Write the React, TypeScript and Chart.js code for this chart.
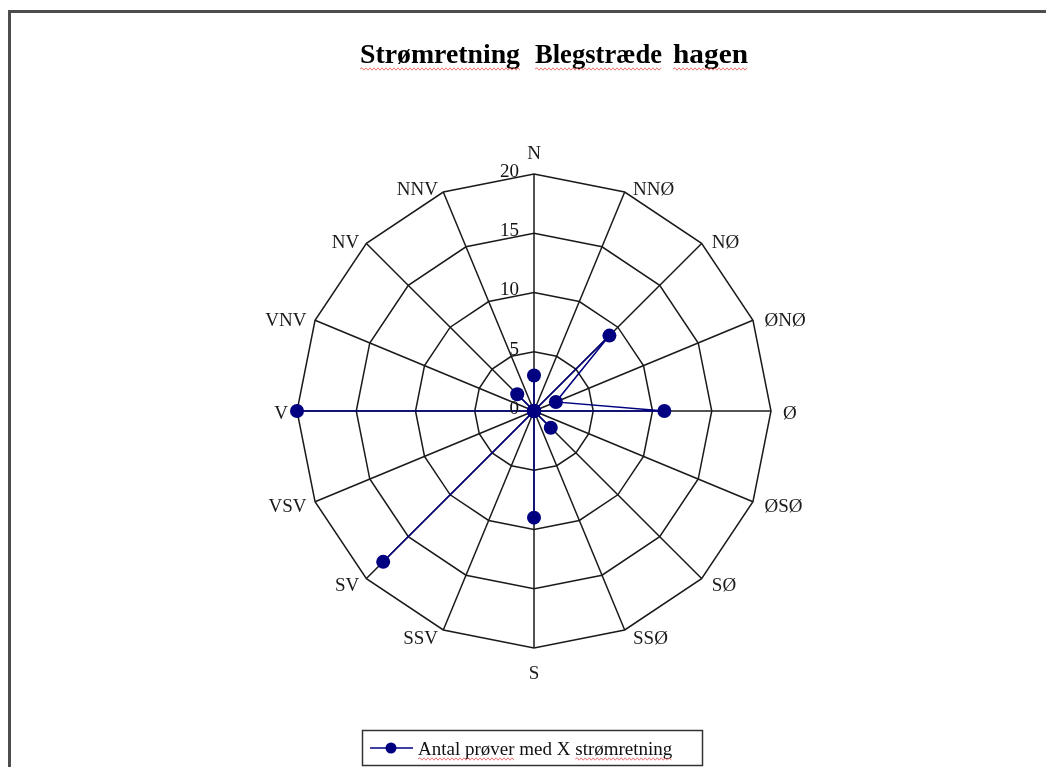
import React, { useEffect, useRef } from "react";
import { Chart, registerables } from "chart.js";

Chart.register(...registerables);

const directions = ["N", "NNØ", "NØ", "ØNØ", "Ø", "ØSØ", "SØ", "SSØ", "S", "SSV", "SV", "VSV", "V", "VNV", "NV", "NNV"];
const counts = [3, 0, 9, 2, 11, 0, 2, 0, 9, 0, 18, 0, 20, 0, 2, 0];
const tickValues = [0, 5, 10, 15, 20];
const titleWords = ["Strømretning", "Blegstræde", "hagen"];
const seriesLabel = "Antal prøver med X strømretning";

const SERIF = '"Liberation Serif", "Times New Roman", serif';

function squiggle(ctx: CanvasRenderingContext2D, x0: number, x1: number, y: number) {
  ctx.save();
  ctx.strokeStyle = "rgba(225,70,70,0.75)";
  ctx.lineWidth = 1;
  ctx.beginPath();
  let up = true;
  ctx.moveTo(x0, y);
  for (let x = x0 + 2; x <= x1; x += 2) {
    ctx.lineTo(x, up ? y - 1.2 : y + 1.2);
    up = !up;
  }
  ctx.stroke();
  ctx.restore();
}

export default function App() {
  const ref = useRef<HTMLCanvasElement>(null);

  useEffect(() => {
    const canvas = ref.current!;
    const decor = {
      id: "decor",
      beforeDraw(chart: any) {
        const ctx = chart.ctx as CanvasRenderingContext2D;
        ctx.save();
        ctx.fillStyle = "#ffffff";
        ctx.fillRect(0, 0, chart.width, chart.height);
        ctx.strokeStyle = "#4d4d4d";
        ctx.lineWidth = 3;
        ctx.beginPath();
        ctx.moveTo(9.5, chart.height);
        ctx.lineTo(9.5, 11.5);
        ctx.lineTo(chart.width, 11.5);
        ctx.stroke();
        ctx.restore();
      },
      afterDraw(chart: any) {
        const ctx = chart.ctx as CanvasRenderingContext2D;
        const r = chart.scales.r;
        const R = r.drawingArea;
        ctx.save();

        // title (each word fitted to its width in the reference)
        ctx.fillStyle = "#000000";
        ctx.font = `bold 27px ${SERIF}`;
        ctx.textAlign = "left";
        ctx.textBaseline = "alphabetic";
        const starts = [360, 535, 673];
        const widths = [160, 127, 75];
        titleWords.forEach((w, i) => {
          const mw = ctx.measureText(w).width;
          const sx = widths[i] / mw;
          ctx.save();
          ctx.translate(starts[i], 63);
          ctx.scale(sx, 1);
          ctx.fillText(w, 0, 0);
          ctx.restore();
          squiggle(ctx, starts[i], starts[i] + widths[i], 69);
        });

        // direction labels
        ctx.font = `19px ${SERIF}`;
        ctx.fillStyle = "#1a1a1a";
        ctx.textBaseline = "middle";
        directions.forEach((lab, i) => {
          const a = (i * 2 * Math.PI) / directions.length;
          const dx = Math.sin(a);
          const dy = -Math.cos(a);
          const vx = r.xCenter + R * dx;
          const vy = r.yCenter + R * dy;
          if (Math.abs(dx) < 0.01) {
            ctx.textAlign = "center";
            ctx.fillText(lab, vx, vy + dy * 23 + 3);
          } else {
            const gap = 3 + 6 * Math.abs(dx) + (dx > 0 ? 3 : 0);
            ctx.textAlign = dx > 0 ? "left" : "right";
            ctx.fillText(lab, vx + Math.sign(dx) * gap, vy + dy * 6 + 3.5);
          }
        });

        // tick labels
        ctx.font = `19px ${SERIF}`;
        ctx.textAlign = "right";
        ctx.textBaseline = "middle";
        ctx.fillStyle = "#111111";
        tickValues.forEach((v) => {
          const d = r.getDistanceFromCenterForValue(v);
          ctx.fillText(String(v), r.xCenter - 15, r.yCenter - d - 2);
        });

        // legend
        ctx.strokeStyle = "#333333";
        ctx.lineWidth = 1.5;
        ctx.strokeRect(362.5, 730.5, 340, 35);
        ctx.strokeStyle = "#000080";
        ctx.lineWidth = 1.5;
        ctx.beginPath();
        ctx.moveTo(370, 748);
        ctx.lineTo(413, 748);
        ctx.stroke();
        ctx.fillStyle = "#000080";
        ctx.beginPath();
        ctx.arc(391, 748, 5.5, 0, Math.PI * 2);
        ctx.fill();
        ctx.fillStyle = "#111111";
        ctx.font = `19px ${SERIF}`;
        ctx.textAlign = "left";
        ctx.textBaseline = "alphabetic";
        ctx.fillText(seriesLabel, 418, 755);
        const parts = seriesLabel.split(" ");
        const w1 = ctx.measureText(parts[0] + " " + parts[1]).width;
        squiggle(ctx, 418, 418 + w1, 759);
        const before = ctx.measureText(parts.slice(0, 4).join(" ") + " ").width;
        const wl = ctx.measureText(parts[4]).width;
        squiggle(ctx, 418 + before, 418 + before + wl, 759);
        ctx.restore();
      },
    };

    const chart = new Chart(canvas, {
      type: "radar",
      data: {
        labels: directions,
        datasets: [
          {
            label: seriesLabel,
            data: counts,
            borderColor: "#000080",
            borderWidth: 1.5,
            backgroundColor: "rgba(0,0,0,0)",
            fill: false,
            pointRadius: 7,
            pointBackgroundColor: "#000080",
            pointBorderColor: "#000080",
            pointBorderWidth: 0,
          },
        ],
      },
      options: {
        responsive: false,
        animation: false,
        layout: { padding: { top: 174, bottom: 118, left: 22, right: 0 } },
        plugins: {
          legend: { display: false },
          title: { display: false },
          tooltip: { enabled: false },
        },
        elements: { line: { tension: 0 } },
        scales: {
          r: {
            min: 0,
            max: 20,
            ticks: { stepSize: 5, display: false },
            grid: { color: "#1a1a1a", lineWidth: 1.5 },
            angleLines: { color: "#1a1a1a", lineWidth: 1.5 },
            pointLabels: { display: false },
          },
        },
      },
      plugins: [decor],
    } as any);

    return () => chart.destroy();
  }, []);

  return (
    <div style={{ position: "absolute", left: 0, top: 0, width: 1046, height: 767 }}>
      <canvas ref={ref} width={1046} height={767} style={{ display: "block", width: 1046, height: 767 }} />
    </div>
  );
}
